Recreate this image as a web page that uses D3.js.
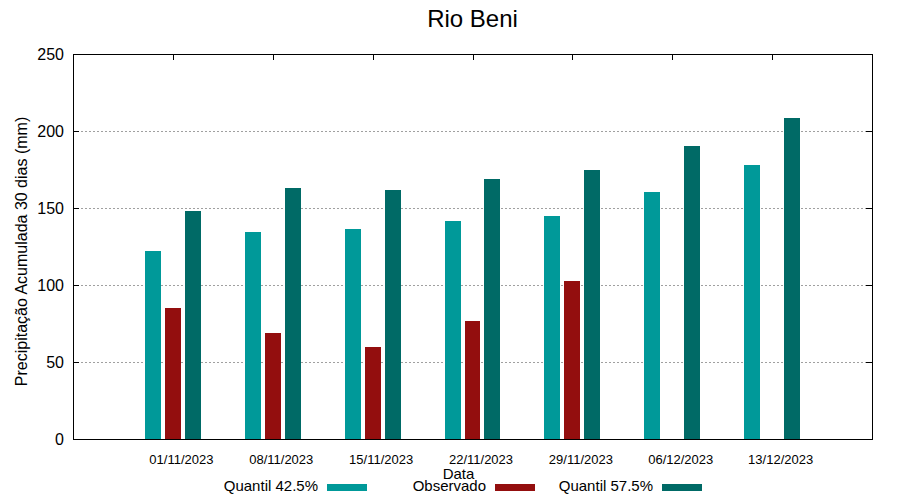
<!DOCTYPE html>
<html>
<head>
<meta charset="utf-8">
<script src="https://cdn.jsdelivr.net/npm/d3@7"></script>
<style>
html,body{margin:0;padding:0;background:#fff;}
svg{display:block;font-family:"Liberation Sans",Arial,sans-serif;}
</style>
</head>
<body>
<svg id="chart" width="900" height="500"></svg>
<script>
const title = "Rio Beni";
const dates = ["01/11/2023","08/11/2023","15/11/2023","22/11/2023","29/11/2023","06/12/2023","13/12/2023"];
const q425 = [122.1, 134.4, 136.4, 141.6, 144.8, 160.4, 177.9];
const observado = [85.1, 68.8, 59.7, 76.6, 102.6, null, null];
const q575 = [148.1, 163.0, 161.7, 168.8, 174.7, 190.3, 208.4];
const yTicks = [0, 50, 100, 150, 200, 250];
const seriesNames = ["Quantil 42.5%", "Observado", "Quantil 57.5%"];
const seriesColors = ["#009999", "#930e0e", "#006a66"];
const seriesOffsets = [-0.2, 0, 0.2];

const svg = d3.select("#chart");
const L = 73, R = 872, T = 54, B = 439;
const x = d3.scaleLinear().domain([-1, dates.length]).range([L, R]);
const y = d3.scaleLinear().domain([0, 250]).range([B, T]);
const barW = x(0.16) - x(0);

// grid
svg.append("g").selectAll("line").data(yTicks.filter(v => v > 0 && v < 250)).join("line")
  .attr("x1", L).attr("x2", R).attr("y1", d => y(d)).attr("y2", d => y(d))
  .attr("stroke", "#a0a0a0").attr("stroke-width", 1).attr("stroke-dasharray", "2,2")
  .attr("shape-rendering", "crispEdges");

// bars
const series = [q425, observado, q575];
series.forEach((vals, s) => {
  svg.append("g").selectAll("rect").data(vals.map((v, i) => ({v, i})).filter(d => d.v != null)).join("rect")
    .attr("x", d => x(d.i + seriesOffsets[s]) - barW / 2)
    .attr("width", barW)
    .attr("y", d => y(d.v))
    .attr("height", d => y(0) - y(d.v))
    .attr("fill", seriesColors[s])
    .attr("shape-rendering", "crispEdges");
});

// axes (ticks inward, mirrored)
const tickLen = 6;
const axLeft = d3.axisLeft(y).tickValues(yTicks).tickSize(-tickLen).tickPadding(9);
const gL = svg.append("g").attr("transform", `translate(${L},0)`).call(axLeft);
const axRight = d3.axisRight(y).tickValues(yTicks).tickSize(-tickLen).tickFormat("");
const gR = svg.append("g").attr("transform", `translate(${R},0)`).call(axRight);
const axTop = d3.axisTop(x).tickValues(d3.range(dates.length)).tickSize(-tickLen).tickFormat("");
const gT = svg.append("g").attr("transform", `translate(0,${T})`).call(axTop);
const axBot = d3.axisBottom(x).tickValues(d3.range(dates.length)).tickSize(0).tickPadding(16)
  .tickFormat(i => dates[i]);
const gB = svg.append("g").attr("transform", `translate(0,${B})`).call(axBot);

[gL, gR, gT, gB].forEach(g => {
  g.select(".domain").remove();
  g.selectAll(".tick line").attr("stroke", "#000").attr("stroke-width", 1).attr("shape-rendering", "crispEdges");
});
gL.selectAll("text").attr("font-size", 16).attr("fill", "#000").attr("font-family", "Liberation Sans, Arial, sans-serif");
gB.selectAll("text").attr("font-size", 13).attr("fill", "#000").attr("dx", 8).attr("font-family", "Liberation Sans, Arial, sans-serif");

// frame
svg.append("rect").attr("x", L).attr("y", T).attr("width", R - L).attr("height", B - T)
  .attr("fill", "none").attr("stroke", "#000").attr("stroke-width", 1).attr("shape-rendering", "crispEdges");

// title
svg.append("text").attr("x", (L + R) / 2).attr("y", 27).attr("text-anchor", "middle")
  .attr("font-size", 24).attr("fill", "#000").text(title);

// y label
svg.append("text").attr("transform", `translate(27,${(T + B) / 2 + 5}) rotate(-90)`)
  .attr("text-anchor", "middle").attr("font-size", 16).attr("fill", "#000")
  .text("Precipitação Acumulada 30 dias (mm)");

// x label
svg.append("text").attr("x", 458.5).attr("y", 479).attr("text-anchor", "middle")
  .attr("font-size", 15).attr("fill", "#000").text("Data");

// legend
const legTextEnd = [318, 486, 653];
seriesNames.forEach((n, s) => {
  svg.append("text").attr("x", legTextEnd[s]).attr("y", 491).attr("text-anchor", "end")
    .attr("font-size", 15).attr("fill", "#000").text(n);
  svg.append("rect").attr("x", legTextEnd[s] + 9).attr("y", 484).attr("width", 40).attr("height", 7)
    .attr("fill", seriesColors[s]);
});
</script>
</body>
</html>
